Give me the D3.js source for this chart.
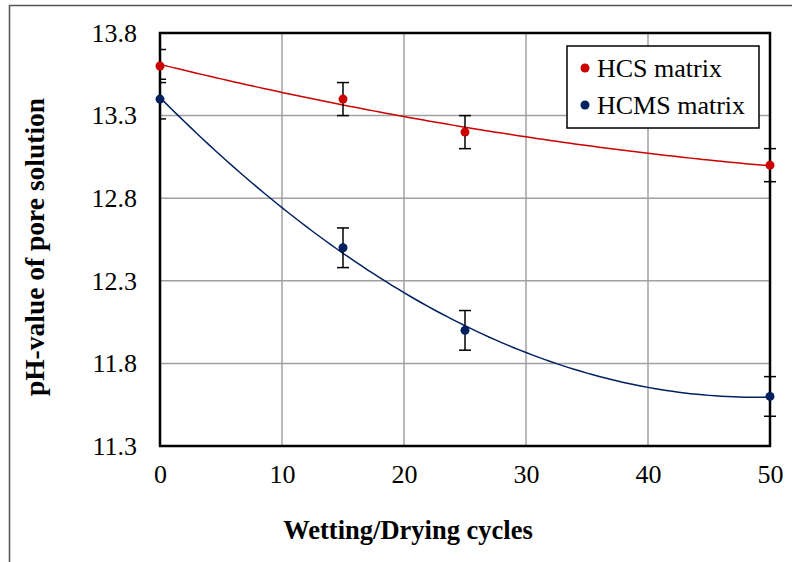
<!DOCTYPE html>
<html><head><meta charset="utf-8">
<script src="https://cdn.jsdelivr.net/npm/d3@7"></script>
<style>body{margin:0;background:#fff}svg{display:block}</style>
</head><body>
<svg id="c" width="792" height="562"></svg>
<script>
const cycles = [0, 15, 25, 50];
const hcsValues = [13.6, 13.4, 13.2, 13.0];
const hcsErrors = [0.1, 0.1, 0.1, 0.1];
const hcmsValues = [13.4, 12.5, 12.0, 11.6];
const hcmsErrors = [0.12, 0.12, 0.12, 0.12];
const xTicks = [0, 10, 20, 30, 40, 50];
const yTicks = [11.3, 11.8, 12.3, 12.8, 13.3, 13.8];
const seriesNames = ["HCS matrix", "HCMS matrix"];
const seriesColors = ["#CC0000", "#002060"];

const svg = d3.select("#c");
const m = {l:160, r:770, t:33, b:446};
const x = d3.scaleLinear().domain([0,50]).range([m.l, m.r]);
const y = d3.scaleLinear().domain([11.3,13.8]).range([m.b, m.t]);
const font = "'Liberation Serif','Times New Roman',serif";

// outer frame
svg.append("path").attr("d","M9.5,562 L9.5,5.5 L792,5.5").attr("fill","none").attr("stroke","#555").attr("stroke-width",1.5);

// grid
svg.append("g").selectAll("line").data(xTicks.slice(1,-1)).join("line")
  .attr("x1",d=>x(d)).attr("x2",d=>x(d)).attr("y1",m.t).attr("y2",m.b)
  .attr("stroke","#a0a0a0").attr("stroke-width",1.5);
svg.append("g").selectAll("line").data(yTicks.slice(1,-1)).join("line")
  .attr("y1",d=>y(d)).attr("y2",d=>y(d)).attr("x1",m.l).attr("x2",m.r)
  .attr("stroke","#a0a0a0").attr("stroke-width",1.5);

// plot frame
svg.append("rect").attr("x",m.l).attr("y",m.t).attr("width",m.r-m.l).attr("height",m.b-m.t)
  .attr("fill","none").attr("stroke","#000").attr("stroke-width",2.5);

// axes labels via d3 axes (no domain/ticks lines)
const xAxis = svg.append("g").attr("transform",`translate(0,${m.b})`)
  .call(d3.axisBottom(x).tickValues(xTicks).tickFormat(d3.format("d")).tickSize(0).tickPadding(19));
xAxis.select(".domain").remove();
xAxis.attr("font-family",font).attr("font-size",26);
xAxis.selectAll("text").attr("fill","#000").attr("font-family",font);
const yAxis = svg.append("g").attr("transform",`translate(${m.l},0)`)
  .call(d3.axisLeft(y).tickValues(yTicks).tickFormat(d3.format(".1f")).tickSize(0).tickPadding(23));
yAxis.select(".domain").remove();
yAxis.attr("font-family",font).attr("font-size",26);
yAxis.selectAll("text").attr("fill","#000").attr("font-family",font);

svg.append("text").attr("x",408).attr("y",539).attr("text-anchor","middle")
  .attr("font-family",font).attr("font-weight","bold").attr("font-size",26.5).text("Wetting/Drying cycles");
svg.append("text").attr("transform",`translate(44,247) rotate(-90)`).attr("text-anchor","middle")
  .attr("font-family",font).attr("font-weight","bold").attr("font-size",27.5).text("pH-value of pore solution");

// quadratic least-squares trendline
function quadFit(xs, ys){
  const S = k => d3.sum(xs, v => Math.pow(v,k));
  const T = k => d3.sum(xs.map((v,i)=>Math.pow(v,k)*ys[i]));
  const A = [[S(0),S(1),S(2)],[S(1),S(2),S(3)],[S(2),S(3),S(4)]];
  const B = [T(0),T(1),T(2)];
  const M = A.map((r,i)=>[...r,B[i]]);
  for(let i=0;i<3;i++){
    for(let j=i+1;j<3;j++){const f=M[j][i]/M[i][i];for(let k=i;k<4;k++)M[j][k]-=f*M[i][k];}
  }
  const c=[0,0,0];
  for(let i=2;i>=0;i--){let s=M[i][3];for(let k=i+1;k<3;k++)s-=M[i][k]*c[k];c[i]=s/M[i][i];}
  return v => c[0]+c[1]*v+c[2]*v*v;
}

svg.append("defs").append("clipPath").attr("id","clip").append("rect")
  .attr("x",m.l).attr("y",0).attr("width",792-m.l).attr("height",562);

const series = [
  {vals:hcsValues, errs:hcsErrors, color:seriesColors[0]},
  {vals:hcmsValues, errs:hcmsErrors, color:seriesColors[1]}
];
const line = d3.line().x(d=>x(d[0])).y(d=>y(d[1]));
series.forEach(s=>{
  const f = quadFit(cycles, s.vals);
  const pts = d3.range(0,50.01,0.5).map(v=>[v,f(v)]);
  svg.append("path").attr("d",line(pts)).attr("fill","none").attr("stroke",s.color).attr("stroke-width",1.5);
  const g = svg.append("g").attr("clip-path","url(#clip)");
  cycles.forEach((c,i)=>{
    const cx=x(c), y1=y(s.vals[i]+s.errs[i]), y2=y(s.vals[i]-s.errs[i]);
    g.append("line").attr("x1",cx).attr("x2",cx).attr("y1",y1).attr("y2",y2).attr("stroke","#000").attr("stroke-width",1.5);
    [y1,y2].forEach(yy=>g.append("line").attr("x1",cx-6).attr("x2",cx+6).attr("y1",yy).attr("y2",yy).attr("stroke","#000").attr("stroke-width",1.5));
  });
  svg.append("g").selectAll("circle").data(cycles).join("circle")
    .attr("cx",d=>x(d)).attr("cy",(d,i)=>y(s.vals[i])).attr("r",4.5).attr("fill",s.color);
});

// legend
const lg = svg.append("g");
lg.append("rect").attr("x",567).attr("y",46).attr("width",192).attr("height",82).attr("fill","#fff").attr("stroke","#000").attr("stroke-width",1.5);
seriesNames.forEach((n,i)=>{
  const yy = 68 + i*37;
  lg.append("circle").attr("cx",585).attr("cy",yy).attr("r",4.5).attr("fill",seriesColors[i]);
  lg.append("text").attr("x",597).attr("y",yy+8.5).attr("font-family",font).attr("font-size",26).text(n);
});
</script>
</body></html>
